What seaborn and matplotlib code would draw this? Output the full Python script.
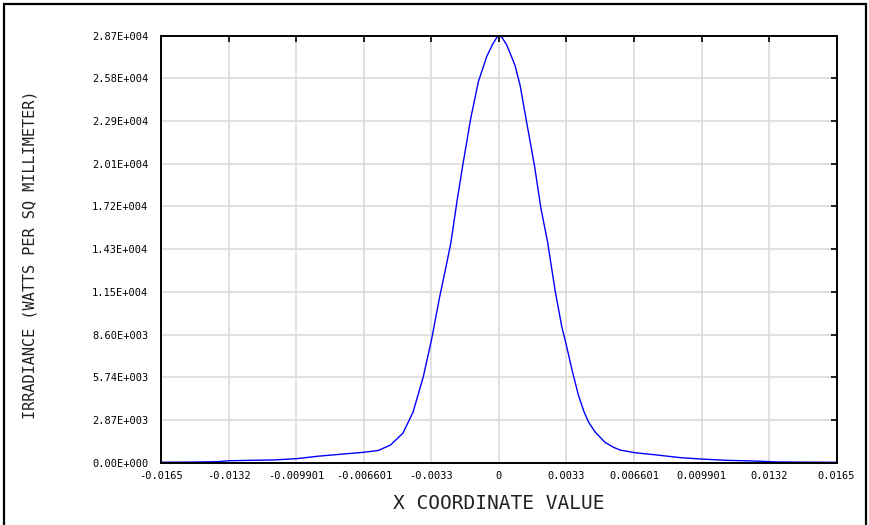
import numpy as np
import pandas as pd
import matplotlib
matplotlib.use("Agg")
import matplotlib.pyplot as plt
import seaborn as sns

# irradiance cross-section
x_coord = [-0.0165, -0.0150, -0.0138, -0.0132, -0.0121, -0.0110, -0.0099, -0.0088,
           -0.0078, -0.0066, -0.0059, -0.0053, -0.0047, -0.0042, -0.0037, -0.0033,
           -0.0029, -0.0026, -0.00235, -0.00205, -0.00177, -0.00138, -0.00101,
           -0.00060, -0.00030, -0.00012, 0.0, 0.00015, 0.00038, 0.00078, 0.00103,
           0.00135, 0.00173, 0.00205, 0.00238, 0.00274, 0.00307, 0.00331, 0.00357,
           0.00388, 0.00415, 0.00437, 0.00469, 0.00518, 0.00559, 0.00592, 0.00665,
           0.0077, 0.00885, 0.00983, 0.0111, 0.0124, 0.0136, 0.0150, 0.0165]
irradiance = [30, 40, 67, 130, 160, 185, 270, 440,
              560, 700, 820, 1190, 1980, 3400, 5780, 8250,
              11150, 13100, 14800, 17600, 20000, 23150, 25600,
              27300, 28150, 28550, 28700, 28580, 28070, 26720, 25380,
              22900, 20000, 17100, 14800, 11600, 9140, 7800, 6230,
              4550, 3450, 2750, 2080, 1370, 1040, 850, 670,
              520, 340, 250, 160, 115, 50, 35, 25]

x_ticks = [-0.0165, -0.0132, -0.009901, -0.006601, -0.0033, 0,
           0.0033, 0.006601, 0.009901, 0.0132, 0.0165]
x_tick_labels = ["-0.0165", "-0.0132", "-0.009901", "-0.006601", "-0.0033", "0",
                 "0.0033", "0.006601", "0.009901", "0.0132", "0.0165"]
y_ticks = [0, 2870, 5740, 8610, 11480, 14350, 17220, 20090, 22960, 25830, 28700]
y_tick_labels = ["0.00E+000", "2.87E+003", "5.74E+003", "8.60E+003", "1.15E+004",
                 "1.43E+004", "1.72E+004", "2.01E+004", "2.29E+004", "2.58E+004",
                 "2.87E+004"]

df = pd.DataFrame({"x": x_coord, "irr": irradiance})

sns.set_style("white")
plt.rcParams['font.family'] = ['DejaVu Sans Mono', 'DejaVu Sans']

fig = plt.figure(figsize=(8.7, 5.25), dpi=100)
ax = fig.add_axes([0.1856, 0.1187, 0.7759, 0.8133])

sns.lineplot(data=df, x="x", y="irr", ax=ax, color="#0000ff", linewidth=1.0)

ax.set_xlim(-0.0165, 0.0165)
ax.set_ylim(0, 28700)
ax.set_xticks(x_ticks)
ax.set_xticklabels(x_tick_labels)
ax.set_yticks(y_ticks)
ax.set_yticklabels(y_tick_labels)
ax.grid(True, color="#d8d8d8", linewidth=1.1)

ax.tick_params(axis="both", direction="in", length=4, width=1.2, color="black",
               labelsize=7.5, labelcolor="black", top=True, right=True)
ax.tick_params(axis="x", pad=6)
ax.tick_params(axis="y", pad=9.5)
for s in ax.spines.values():
    s.set_color("black")
    s.set_linewidth(1.4)

ax.set_xlabel("X COORDINATE VALUE", fontsize=14, color="#222222")
ax.set_ylabel("IRRADIANCE (WATTS PER SQ MILLIMETER)", fontsize=11, color="#222222")
ax.xaxis.set_label_coords(0.5, -0.074)
ax.yaxis.set_label_coords(-0.183, 0.486)

# outer frame of the window
frame = plt.Rectangle((4 / 870, -0.05), 862 / 870, 1 - 4 / 525 + 0.05,
                      transform=fig.transFigure, fill=False, edgecolor="black",
                      linewidth=1.6, clip_on=False)
fig.patches.append(frame)

fig.savefig("out.png", dpi=100)
